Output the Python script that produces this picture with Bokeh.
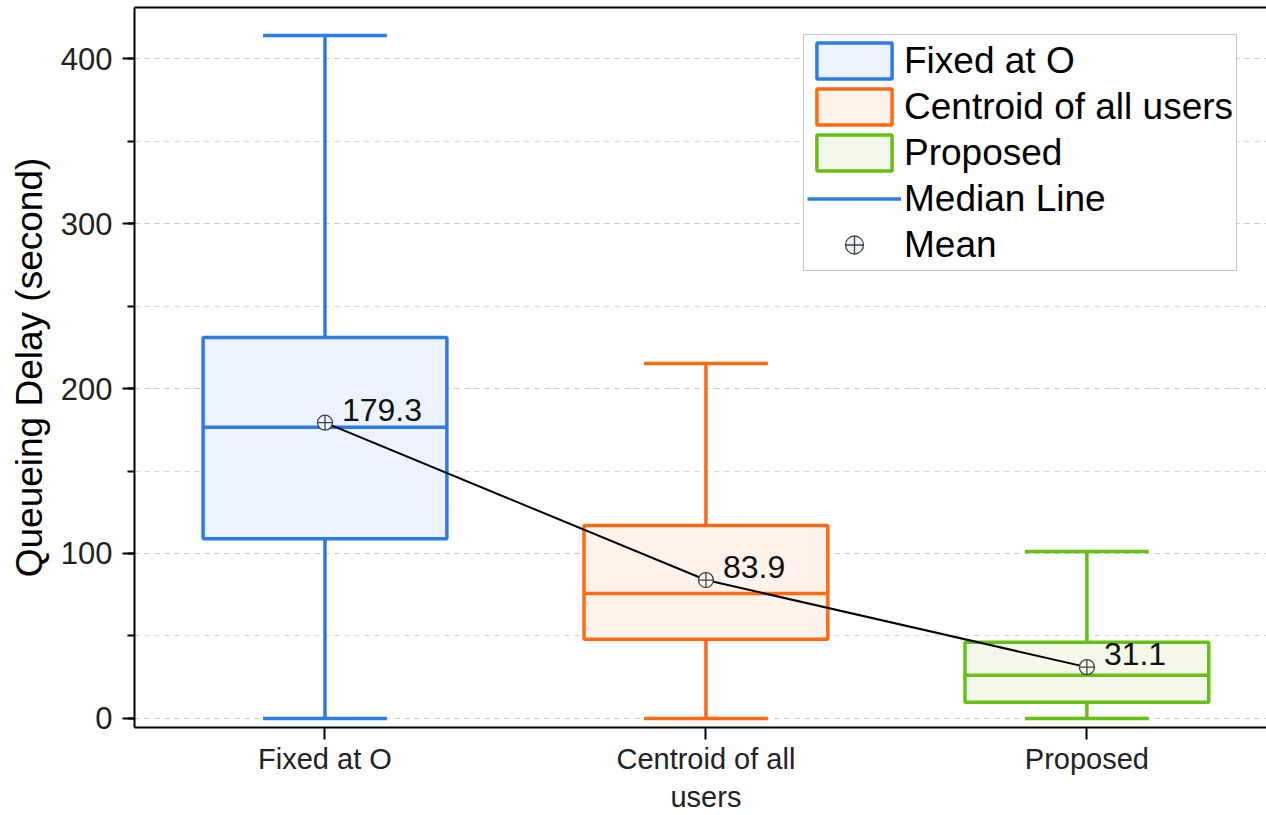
from bokeh.plotting import figure
from bokeh.models import (Range1d, FixedTicker, SingleIntervalTicker, LinearAxis,
                          Legend, LegendItem, ColumnDataSource)
from bokeh.core.properties import value
from bokeh.embed import file_html
from bokeh.resources import INLINE

# ---- data -------------------------------------------------------------
categories = ["Fixed at O", "Centroid of all\nusers", "Proposed"]
legend_names = ["Fixed at O", "Centroid of all users", "Proposed"]
whisker_low = [0.0, 0.0, 0.0]
q1 = [109.0, 48.0, 9.8]
median = [176.5, 75.8, 26.2]
q3 = [231.0, 117.0, 46.2]
whisker_high = [414.0, 215.2, 101.2]
means = [179.3, 83.9, 31.1]

edge_colors = ["#2f7be5", "#ff6a13", "#66bf14"]
fill_colors = ["#edf3fc", "#fff2eb", "#f3f8ea"]

FONT = "Liberation Sans"
xs = [i + 1 for i in range(len(categories))]
box_w = 0.64
cap_w = 0.325
LW = 3.5

p = figure(width=1266, height=815, output_backend="svg", toolbar_location=None,
           x_range=Range1d(0.5, 3.4715), y_range=Range1d(-5.5, 431),
           min_border_left=134, min_border_right=0, min_border_top=7,
           min_border_bottom=88, outline_line_color=None,
           background_fill_color="white", border_fill_color="white")

# grid: dashed at every 50
p.xgrid.grid_line_color = None
p.ygrid.grid_line_color = "#c9c9c9"
p.ygrid.grid_line_dash = "5 5"
p.ygrid.grid_line_width = 1
p.ygrid.minor_grid_line_color = "#d6d6d6"
p.ygrid.minor_grid_line_dash = "5 5"

# axes
p.yaxis.ticker = SingleIntervalTicker(interval=100, num_minor_ticks=2)
p.yaxis.axis_label = "Queueing Delay (second)"
p.yaxis.axis_label_text_font = FONT
p.yaxis.axis_label_text_font_size = "37px"
p.yaxis.axis_label_text_font_style = "normal"
p.yaxis.axis_label_text_color = "black"
p.yaxis.axis_label_standoff = 8
p.yaxis.major_label_text_font = FONT
p.yaxis.major_label_text_font_size = "31px"
p.yaxis.major_label_text_color = "#222222"
p.yaxis.major_label_standoff = 10
p.yaxis.major_tick_out = 12
p.yaxis.major_tick_in = 0
p.yaxis.minor_tick_out = 7
p.yaxis.minor_tick_in = 0

p.xaxis.ticker = FixedTicker(ticks=xs)
p.xaxis.major_label_overrides = {x: c for x, c in zip(xs, categories)}
p.xaxis.major_label_text_font = FONT
p.xaxis.major_label_text_font_size = "29px"
p.xaxis.major_label_text_color = "#222222"
p.xaxis.major_label_standoff = 3
p.xaxis.major_tick_out = 12
p.xaxis.major_tick_in = 0
p.xaxis.minor_tick_line_color = None

for ax in (p.xaxis[0], p.yaxis[0]):
    ax.axis_line_width = 2
    ax.axis_line_color = "black"
    ax.major_tick_line_width = 2
    ax.major_tick_line_color = "black"
    ax.minor_tick_line_width = 2
    ax.minor_tick_line_color = "black"

# top border line
top = LinearAxis(ticker=FixedTicker(ticks=[]), axis_line_width=2,
                 axis_line_color="black", major_tick_line_color=None,
                 minor_tick_line_color=None, major_label_text_font_size="0px")
p.add_layout(top, "above")

# ---- boxes ------------------------------------------------------------
box_renderers = []
median_renderers = []
for i, x in enumerate(xs):
    c, f = edge_colors[i], fill_colors[i]
    # whiskers
    p.segment(x0=[x, x], y0=[q3[i], q1[i]], x1=[x, x],
              y1=[whisker_high[i], whisker_low[i]], line_color=c, line_width=LW)
    p.segment(x0=[x - cap_w / 2] * 2, x1=[x + cap_w / 2] * 2,
              y0=[whisker_high[i], whisker_low[i]],
              y1=[whisker_high[i], whisker_low[i]], line_color=c, line_width=LW)
    b = p.vbar(x=[x], bottom=[q1[i]], top=[q3[i]], width=box_w,
               fill_color=f, line_color=c, line_width=LW)
    box_renderers.append(b)
    m = p.segment(x0=[x - box_w / 2], x1=[x + box_w / 2], y0=[median[i]],
                  y1=[median[i]], line_color=c, line_width=LW)
    median_renderers.append(m)

# mean line and markers
p.line(x=xs, y=means, line_color="black", line_width=2)
mean_src = ColumnDataSource(dict(x=xs, y=means, fill=fill_colors,
                                 label=[f"{v:.1f}" for v in means]))
mean_r = p.scatter(x="x", y="y", source=mean_src, marker="circle_cross", size=15,
                   fill_color="fill", line_color="#444444", line_width=1.3)
p.text(x="x", y="y", text="label", source=mean_src, x_offset=17, y_offset=-13,
       text_font=value(FONT), text_font_size="32px", text_color="#111111",
       text_baseline="alphabetic", text_align="left")

# ---- legend -----------------------------------------------------------
items = [LegendItem(label=legend_names[i], renderers=[box_renderers[i]])
         for i in range(3)]
items.append(LegendItem(label="Median Line", renderers=[median_renderers[0]]))
items.append(LegendItem(label="Mean", renderers=[mean_r], index=0))
legend = Legend(items=items, location=(669, 456), orientation="vertical",
                label_text_font=FONT, label_text_font_size="37px",
                label_text_color="black", glyph_width=94, glyph_height=45,
                label_height=40, label_standoff=3, spacing=1, padding=3,
                margin=0, border_line_color="#8a8a8a", border_line_width=1.5,
                background_fill_color="white", background_fill_alpha=1.0)
p.add_layout(legend, "center")

open("out.html", "w").write(file_html(p, INLINE))
